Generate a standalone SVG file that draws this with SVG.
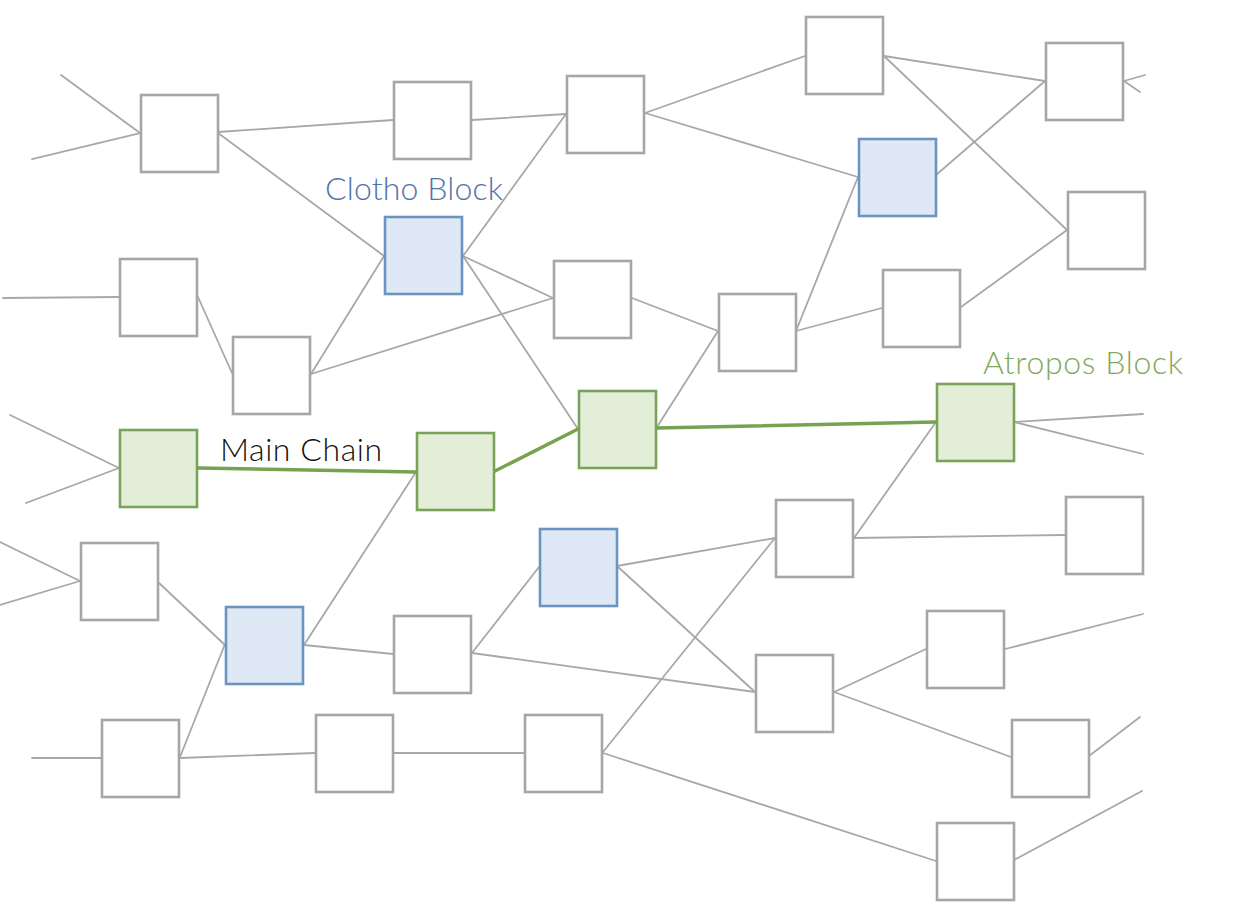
<svg xmlns="http://www.w3.org/2000/svg" width="1246" height="920" viewBox="0 0 1246 920">
<style>
.e{stroke:#a8a8a8;stroke-width:1.8;fill:none;stroke-linecap:round}
.m{stroke:#76a34f;stroke-width:3.5;fill:none;stroke-linecap:round}
.n rect{fill:#ffffff;stroke:#a6a6a6;stroke-width:2.6}
.b rect{fill:#dfe9f5;stroke:#6c94c0;stroke-width:2.6}
.g rect{fill:#e3eed9;stroke:#7aa35a;stroke-width:2.6}
.t{font-family:"Lato","Liberation Sans",Arial,sans-serif;font-size:32px;font-weight:300}
</style>
<rect width="1246" height="920" fill="#ffffff"/>
<g id="connectors">
<line class="e" x1="61" y1="75" x2="140" y2="133"/>
<line class="e" x1="32" y1="159" x2="140" y2="133"/>
<line class="e" x1="3" y1="298" x2="119" y2="297"/>
<line class="e" x1="10" y1="415" x2="119" y2="468"/>
<line class="e" x1="26" y1="503" x2="119" y2="468"/>
<line class="e" x1="0" y1="542" x2="80" y2="581"/>
<line class="e" x1="0" y1="605" x2="80" y2="581"/>
<line class="e" x1="32" y1="758" x2="101" y2="758"/>
<line class="e" x1="1145" y1="75" x2="1124" y2="81"/>
<line class="e" x1="1124" y1="81" x2="1140" y2="92"/>
<line class="e" x1="1014" y1="422" x2="1143" y2="414"/>
<line class="e" x1="1014" y1="422" x2="1143" y2="454"/>
<line class="e" x1="1005" y1="649" x2="1143" y2="614"/>
<line class="e" x1="1089" y1="756" x2="1140" y2="717"/>
<line class="e" x1="1014" y1="860" x2="1142" y2="791"/>
<line class="e" x1="218" y1="132" x2="393" y2="120"/>
<line class="e" x1="218" y1="133" x2="384" y2="256"/>
<line class="e" x1="472" y1="120" x2="566" y2="114"/>
<line class="e" x1="463" y1="256" x2="566" y2="114"/>
<line class="e" x1="645" y1="113" x2="805" y2="56"/>
<line class="e" x1="645" y1="113" x2="858" y2="177"/>
<line class="e" x1="884" y1="56" x2="1045" y2="81"/>
<line class="e" x1="884" y1="56" x2="1067" y2="230"/>
<line class="e" x1="936" y1="175" x2="1045" y2="81"/>
<line class="e" x1="961" y1="307" x2="1067" y2="230"/>
<line class="e" x1="198" y1="297" x2="232" y2="373"/>
<line class="e" x1="311" y1="374" x2="384" y2="256"/>
<line class="e" x1="311" y1="374" x2="553" y2="298"/>
<line class="e" x1="463" y1="256" x2="553" y2="298"/>
<line class="e" x1="463" y1="256" x2="578" y2="429"/>
<line class="e" x1="632" y1="298" x2="718" y2="331"/>
<line class="e" x1="796" y1="331" x2="858" y2="177"/>
<line class="e" x1="796" y1="331" x2="882" y2="308"/>
<line class="e" x1="657" y1="427" x2="718" y2="331"/>
<line class="e" x1="416" y1="472" x2="304" y2="645"/>
<line class="e" x1="159" y1="583" x2="225" y2="645"/>
<line class="e" x1="225" y1="644" x2="180" y2="757"/>
<line class="e" x1="304" y1="645" x2="393" y2="654"/>
<line class="e" x1="472" y1="653" x2="539" y2="567"/>
<line class="e" x1="472" y1="653" x2="755" y2="692"/>
<line class="e" x1="617" y1="566" x2="775" y2="538"/>
<line class="e" x1="617" y1="566" x2="755" y2="692"/>
<line class="e" x1="854" y1="538" x2="936" y2="422"/>
<line class="e" x1="854" y1="538" x2="1065" y2="535"/>
<line class="e" x1="180" y1="758" x2="315" y2="753"/>
<line class="e" x1="394" y1="753" x2="524" y2="753"/>
<line class="e" x1="603" y1="752" x2="775" y2="538"/>
<line class="e" x1="603" y1="753" x2="936" y2="861"/>
<line class="e" x1="834" y1="692" x2="926" y2="649"/>
<line class="e" x1="834" y1="692" x2="1011" y2="757"/>
<line class="m" x1="198" y1="468" x2="416" y2="472"/>
<line class="m" x1="495" y1="471" x2="578" y2="429"/>
<line class="m" x1="657" y1="428" x2="936" y2="422"/>
</g>
<g id="n1" class="n"><rect x="141" y="95" width="77" height="77"/></g>
<g id="n2" class="n"><rect x="394" y="82" width="77" height="77"/></g>
<g id="n3" class="n"><rect x="567" y="76" width="77" height="77"/></g>
<g id="n4" class="n"><rect x="806" y="17" width="77" height="77"/></g>
<g id="n5" class="n"><rect x="1046" y="43" width="77" height="77"/></g>
<g id="n6" class="b"><rect x="859" y="139" width="77" height="77"/></g>
<g id="n7" class="n"><rect x="1068" y="192" width="77" height="77"/></g>
<g id="clotho" class="b"><rect x="385" y="217" width="77" height="77"/></g>
<g id="n9" class="n"><rect x="120" y="259" width="77" height="77"/></g>
<g id="n10" class="n"><rect x="233" y="337" width="77" height="77"/></g>
<g id="n11" class="n"><rect x="554" y="261" width="77" height="77"/></g>
<g id="n12" class="n"><rect x="719" y="294" width="77" height="77"/></g>
<g id="n13" class="n"><rect x="883" y="270" width="77" height="77"/></g>
<g id="n14" class="g"><rect x="120" y="430" width="77" height="77"/></g>
<g id="n15" class="g"><rect x="417" y="433" width="77" height="77"/></g>
<g id="n16" class="g"><rect x="579" y="391" width="77" height="77"/></g>
<g id="atropos" class="g"><rect x="937" y="384" width="77" height="77"/></g>
<g id="n18" class="n"><rect x="81" y="543" width="77" height="77"/></g>
<g id="n19" class="b"><rect x="226" y="607" width="77" height="77"/></g>
<g id="n20" class="b"><rect x="540" y="529" width="77" height="77"/></g>
<g id="n21" class="n"><rect x="776" y="500" width="77" height="77"/></g>
<g id="n22" class="n"><rect x="1066" y="497" width="77" height="77"/></g>
<g id="n23" class="n"><rect x="394" y="616" width="77" height="77"/></g>
<g id="n24" class="n"><rect x="756" y="655" width="77" height="77"/></g>
<g id="n25" class="n"><rect x="927" y="611" width="77" height="77"/></g>
<g id="n26" class="n"><rect x="102" y="720" width="77" height="77"/></g>
<g id="n27" class="n"><rect x="316" y="715" width="77" height="77"/></g>
<g id="n28" class="n"><rect x="525" y="715" width="77" height="77"/></g>
<g id="n29" class="n"><rect x="1012" y="720" width="77" height="77"/></g>
<g id="n30" class="n"><rect x="937" y="823" width="77" height="77"/></g>
<g id="labels">
<text class="t" x="325" y="200" fill="#5373a8" textLength="178" lengthAdjust="spacing">Clotho Block</text>
<text class="t" x="983" y="374" fill="#7fa95a" textLength="200" lengthAdjust="spacing">Atropos Block</text>
<text class="t" x="220" y="461" fill="#111111" textLength="162" lengthAdjust="spacing">Main Chain</text>
</g>
</svg>
